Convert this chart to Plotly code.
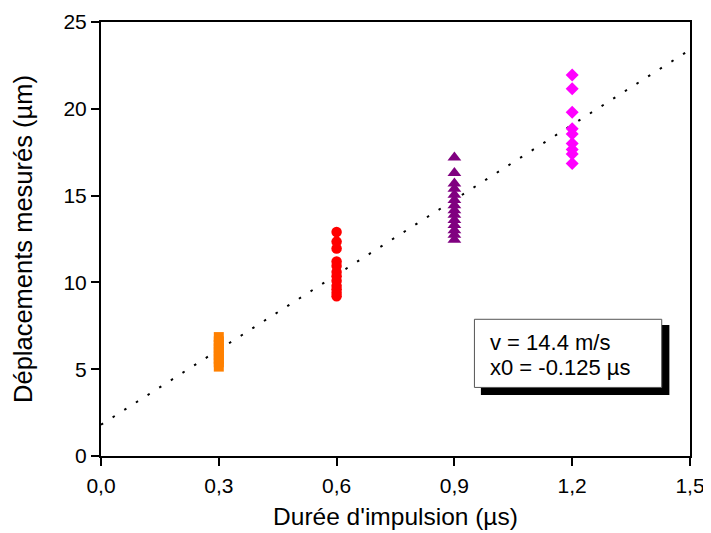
import plotly.graph_objects as go

# Data
x_03 = [0.3] * 9
y_03 = [5.15, 5.4, 5.6, 5.8, 6.0, 6.2, 6.4, 6.6, 6.85]
x_06 = [0.6] * 12
y_06 = [12.9, 12.35, 11.95, 11.2, 10.95, 10.6, 10.35, 10.1, 9.8, 9.6, 9.4, 9.2]
x_09 = [0.9] * 14
y_09 = [17.2, 16.3, 15.7, 15.4, 15.05, 14.75, 14.45, 14.15, 13.9, 13.6, 13.3, 13.0, 12.75, 12.45]
x_12 = [1.2] * 9
y_12 = [21.95, 21.15, 19.8, 18.85, 18.55, 18.0, 17.65, 17.4, 16.85]

v_fit = 14.4      # m/s (µm/µs)
x0_fit = -0.125   # µs
fit_x = [0.0, 1.5]
fit_y = [v_fit * (xx - x0_fit) for xx in fit_x]

x_ticks = [0.0, 0.3, 0.6, 0.9, 1.2, 1.5]
x_ticktext = ["0,0", "0,3", "0,6", "0,9", "1,2", "1,5"]
y_ticks = [0, 5, 10, 15, 20, 25]

FONT = "Liberation Sans, Arial, sans-serif"

fig = go.Figure()
fig.add_trace(go.Scatter(x=fit_x, y=fit_y, mode="lines",
                         line=dict(color="black", width=2, dash="2.5px,11.3px"),
                         showlegend=False, hoverinfo="skip"))
fig.add_trace(go.Scatter(x=x_03, y=y_03, mode="markers",
                         marker=dict(symbol="square", size=10, color="#FF8000", line=dict(width=0)),
                         showlegend=False))
fig.add_trace(go.Scatter(x=x_06, y=y_06, mode="markers",
                         marker=dict(symbol="circle", size=10.5, color="#FF0000", line=dict(width=0)),
                         showlegend=False))
fig.add_trace(go.Scatter(x=x_09, y=y_09, mode="markers",
                         marker=dict(symbol="triangle-up", size=12, color="#800080", line=dict(width=0)),
                         showlegend=False))
fig.add_trace(go.Scatter(x=x_12, y=y_12, mode="markers",
                         marker=dict(symbol="diamond", size=10, color="#FF00FF", line=dict(width=0)),
                         showlegend=False))

# Text box with shadow
fig.add_shape(type="rect", xref="paper", yref="paper",
              x0=0.645, x1=0.965, y0=0.1406, y1=0.302,
              fillcolor="black", line=dict(width=0), layer="above")
fig.add_shape(type="rect", xref="paper", yref="paper",
              x0=0.634, x1=0.952, y0=0.158, y1=0.315,
              fillcolor="white", line=dict(color="#555555", width=1), layer="above")
fig.add_annotation(xref="paper", yref="paper", x=0.657, y=0.2615, xanchor="left", yanchor="middle",
                   text="v = 14.4 m/s", showarrow=False,
                   font=dict(family=FONT, size=22, color="black"))
fig.add_annotation(xref="paper", yref="paper", x=0.657, y=0.2028, xanchor="left", yanchor="middle",
                   text="x0 = -0.125 µs", showarrow=False,
                   font=dict(family=FONT, size=22, color="black"))

fig.update_layout(
    width=703, height=525,
    margin=dict(l=93, r=21, t=14, b=77, autoexpand=False),
    plot_bgcolor="white", paper_bgcolor="white",
    font=dict(family=FONT, size=21, color="black"),
    xaxis=dict(range=[0, 1.5], tickvals=x_ticks, ticktext=x_ticktext, automargin=False,
               showgrid=False, zeroline=False, showline=True, linecolor="black", linewidth=2,
               mirror=True, ticks="outside", ticklen=8, tickwidth=1.5, tickcolor="black",
               tickfont=dict(size=21), ticklabelstandoff=2,
               title=dict(text="Durée d'impulsion (µs)", font=dict(size=24.5), standoff=12)),
    yaxis=dict(range=[0, 25], tickvals=y_ticks, automargin=False,
               showgrid=False, zeroline=False, showline=True, linecolor="black", linewidth=2,
               mirror=True, ticks="outside", ticklen=8, tickwidth=1.5, tickcolor="black",
               tickfont=dict(size=21),
               title=dict(text="Déplacements mesurés (µm)", font=dict(size=25.5), standoff=24)),
)

fig.write_html("out.html")
